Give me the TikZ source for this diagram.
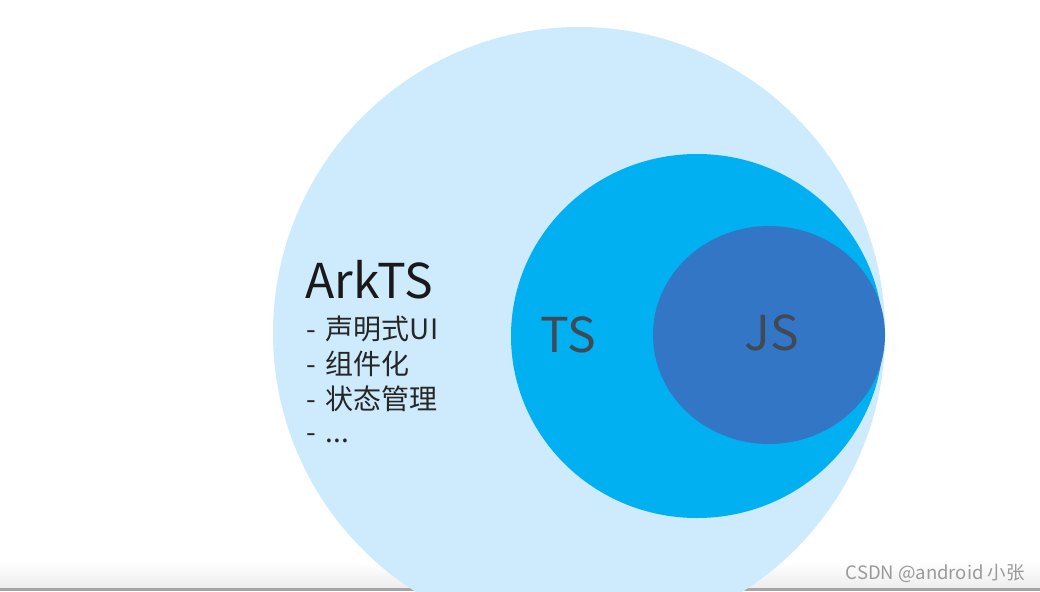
\documentclass[tikz,border=0pt]{standalone}
\usepackage{fontspec}
\setmainfont{Noto Sans CJK SC}
\definecolor{arkblue}{HTML}{CDEBFC}
\definecolor{tsblue}{HTML}{00B0F0}
\definecolor{jsblue}{HTML}{3476C6}
\definecolor{labelgray}{HTML}{3F4A56}
\definecolor{markgray}{HTML}{9A9A9A}

\begin{document}
\begin{tikzpicture}[x=1pt, y=-1pt]
        % Frame of the picture
        \useasboundingbox (0,0) rectangle (1040,591);
        \clip (0,0) rectangle (1040,591);

        % Define centres of the three sets
        \coordinate (C_ark) at (579,333);
        \coordinate (C_ts) at (697,336);
        \coordinate (C_js) at (769,335);

        % Bottom edge of the screen
        \shade[top color=white, bottom color=black!7] (0,562) rectangle (1040,588);
        \fill[black!35] (0,588) rectangle (1040,591);

        % Fill the sets
        \fill[arkblue] (C_ark) circle (306pt);
        \fill[tsblue] (C_ts) ellipse [x radius=186pt, y radius=182pt];
        \fill[jsblue] (C_js) ellipse [x radius=116pt, y radius=109pt];


        % Add labels
        \node[anchor=base west, inner sep=0pt, text=black!90,
              font=\fontsize{48}{56}\selectfont] (arkts) at (305,298) {ArkTS};
        \node[anchor=base west, inner sep=0pt, text=black!85,
              font=\fontsize{28}{32}\selectfont] (feat_1) at (306,339) {-\hspace{10pt}声明式UI};
        \node[anchor=base west, inner sep=0pt, text=black!85,
              font=\fontsize{28}{32}\selectfont] (feat_2) at (306,374) {-\hspace{10pt}组件化};
        \node[anchor=base west, inner sep=0pt, text=black!85,
              font=\fontsize{28}{32}\selectfont] (feat_3) at (306,409) {-\hspace{10pt}状态管理};
        \node[anchor=base west, inner sep=0pt, text=black!85,
              font=\fontsize{28}{32}\selectfont] (feat_4) at (306,442) {-\hspace{10pt}...};

        \node[inner sep=0pt, text=labelgray, font=\fontsize{48}{58}\selectfont] (ts) at (568,335) {TS};
        \node[inner sep=0pt, text=labelgray, font=\fontsize{48}{58}\selectfont] (js) at (772,333) {JS};

        % Watermark
        \node[anchor=base east, inner sep=0pt, text=markgray,
              font=\fontsize{18.5}{22}\selectfont] (mark) at (1025,579) {CSDN @android 小张};


    \end{tikzpicture}
\end{document}
